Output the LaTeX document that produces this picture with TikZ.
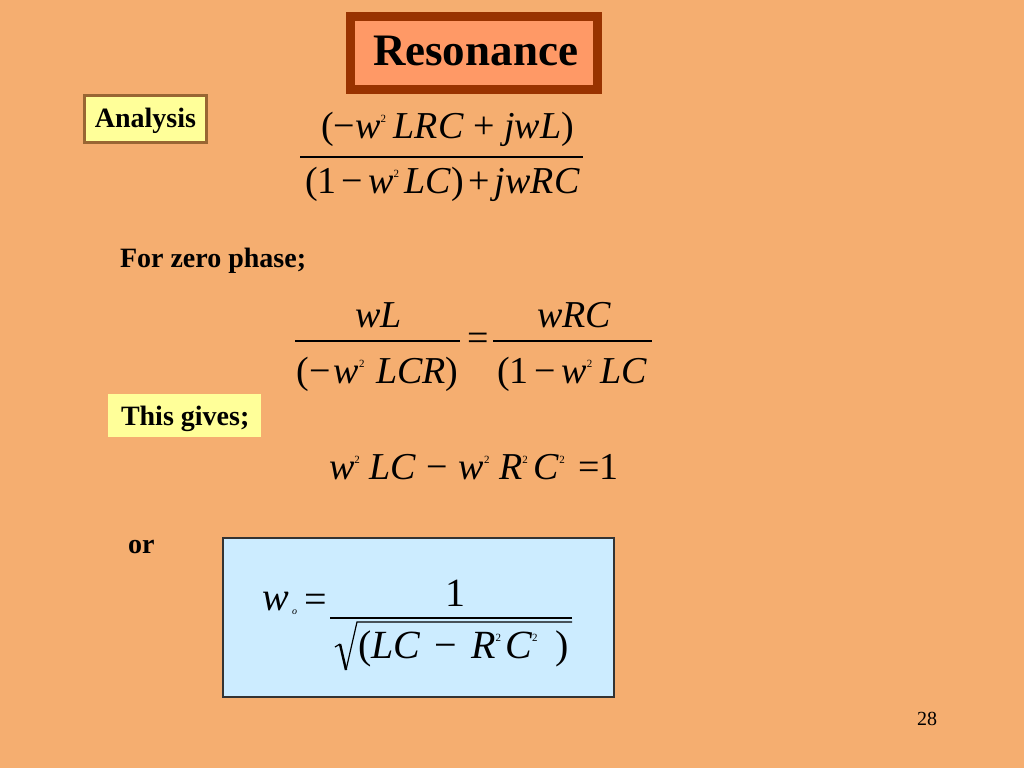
\documentclass[tikz,border=0pt]{standalone}
\usepackage{fontspec}
\setmainfont{Liberation Serif}
\definecolor{bgc}{RGB}{245,174,112}
\definecolor{titlefill}{RGB}{255,153,102}
\definecolor{titleline}{RGB}{153,51,0}
\definecolor{yel}{RGB}{255,255,153}
\definecolor{yelline}{RGB}{153,102,51}
\definecolor{bluefill}{RGB}{204,236,255}
\definecolor{blueline}{RGB}{51,51,51}
\newcommand\tsq[1][0.15em]{\raisebox{0.42em}{\fontsize{11}{11}\selectfont 2}\hspace{#1}}
\newcommand\vi[1]{\textit{#1}}
\newcommand\gp[1]{\hspace{#1}}
\tikzset{
  every node/.style={inner sep=0pt, outer sep=0pt},
  titlebox/.style={draw=titleline, line width=9pt, fill=titlefill},
  yelbox/.style={draw=yelline, line width=3pt, fill=yel},
  plainyel/.style={fill=yel},
  formbox/.style={draw=blueline, line width=1.5pt, fill=bluefill},
  lbl/.style={font=\bfseries\fontsize{28}{30}\selectfont},
  eqt/.style={font=\fontsize{38}{40}\selectfont},
  eqb/.style={font=\fontsize{40}{42}\selectfont},
  fracline/.style={line width=1.6pt},
}
\begin{document}
\begin{tikzpicture}[x=1pt,y=-1pt]
\fill[bgc] (0,0) rectangle (1024,768);
\path[use as bounding box] (0,0) rectangle (1024,768);

% title
\draw[titlebox] (350.5,16.5) rectangle (597.5,89.5);
\node[anchor=base, font=\bfseries\fontsize{45}{50}\selectfont] (title) at (475.5,65) {Resonance};

% Analysis
\draw[yelbox] (84.5,95.5) rectangle (206.5,142.5);
\node[lbl, anchor=base] (analysis) at (145.5,127) {Analysis};

% equation 1
\node[eqt, anchor=base] (e1n) at (447.5,138) {(−\vi{w}\tsq[0.2em]\vi{LRC}\gp{0.25em}+\gp{0.25em}\vi{jwL})};
\node[eqt, anchor=base] (e1d) at (442.5,193) {(1\gp{0.13em}−\gp{0.13em}\vi{w}\tsq[0.15em]\vi{LC})\gp{0.12em}+\gp{0.12em}\vi{jwRC}};
\coordinate (e1a) at (300,157);
\coordinate (e1b) at (583,157);
\draw[fracline] (e1a) -- (e1b);

% For zero phase
\node[lbl, anchor=base west] (fzp) at (120,267) {For zero phase;};

% equation 2
\node[eqt, anchor=base] (e2n1) at (378.5,327) {\vi{wL}};
\node[eqt, anchor=base] (e2d1) at (377.5,383) {(−\gp{0.08em}\vi{w}\tsq[0.3em]\vi{LCR})};
\coordinate (e2a) at (295,341);
\coordinate (e2b) at (460,341);
\draw[fracline] (e2a) -- (e2b);
\node[eqt, anchor=base] (e2eq) at (478.5,350) {=};
\node[eqt, anchor=base] (e2n2) at (574.5,327) {\vi{wRC}};
\node[eqt, anchor=base] (e2d2) at (572,383) {(1\gp{0.15em}−\gp{0.15em}\vi{w}\tsq[0.2em]\vi{LC}};
\coordinate (e2c) at (493,341);
\coordinate (e2d) at (652,341);
\draw[fracline] (e2c) -- (e2d);

% This gives
\fill[plainyel] (108,394) rectangle (261,437);
\node[lbl, anchor=base west] (tg) at (121,425) {This gives;};

% equation 3
\node[eqt, anchor=base west] (e3) at (329,479) {\vi{w}\tsq[0.25em]\vi{LC}\gp{0.28em}−\gp{0.28em}\vi{w}\tsq[0.25em]\vi{R}\tsq[0.15em]\vi{C}\tsq[0.35em]=1};

% or
\node[lbl, anchor=base west] (or) at (128,553) {or};

% boxed result
\draw[formbox] (223,538) rectangle (614,697);
\node[eqb, anchor=base west] (w0) at (262,610) {\vi{w}};
\node[font=\itshape\fontsize{10}{10}\selectfont, anchor=base west] (w0s) at (292,614) {o};
\node[eqb, anchor=base] (e4eq) at (316,612.5) {=};
\coordinate (e4a) at (330,618);
\coordinate (e4b) at (572,618);
\draw[fracline] (e4a) -- (e4b);
\node[eqb, anchor=base] (one) at (455,606) {1};
\coordinate (r1) at (335,647);
\coordinate (r2) at (340,644);
\coordinate (r3) at (346,670);
\coordinate (r4) at (357,622);
\coordinate (r5) at (572,622);
\draw[line width=1.2pt, line join=miter] (r1) -- (r2);
\draw[line width=2.4pt] (r2) -- (r3);
\draw[line width=1.2pt] (r3) -- (r4) -- (r5);
\node[eqb, anchor=base west] (rad) at (358,658) {(\vi{LC}\gp{0.35em}−\gp{0.35em}\vi{R}\tsq[0.1em]\vi{C}\tsq[0.45em])};

% page number
\node[font=\fontsize{20}{22}\selectfont, anchor=base west] (pg) at (917,725) {28};
\end{tikzpicture}
\end{document}
